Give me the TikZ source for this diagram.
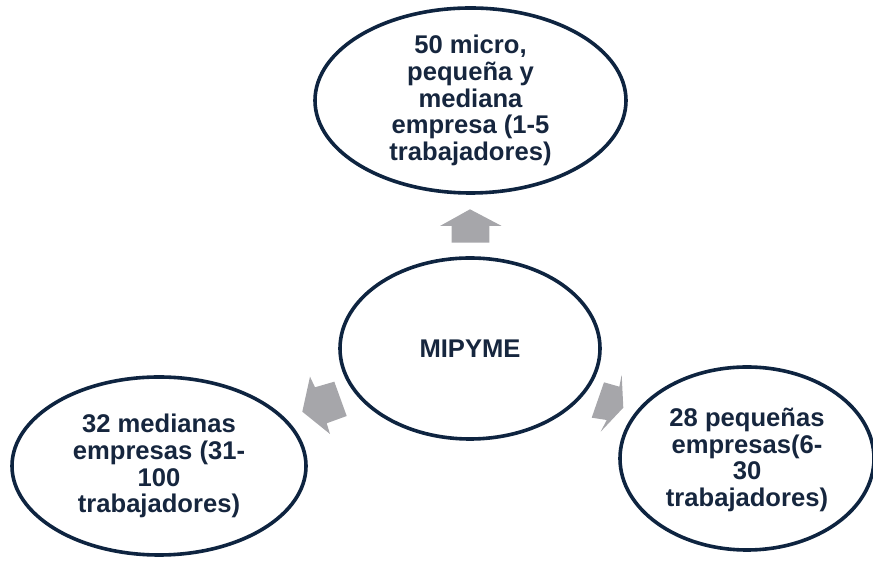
\documentclass[tikz,border=0pt]{standalone}
\usepackage{fontspec}
\setmainfont{Liberation Sans}
\usetikzlibrary{shapes.geometric}
\definecolor{navyline}{RGB}{14,36,64}
\definecolor{navytext}{RGB}{22,38,62}
\definecolor{arrowgray}{RGB}{166,166,170}
\begin{document}
\begin{tikzpicture}[x=1pt,y=1pt,
  oval/.style={ellipse, draw=navyline, line width=3.6pt, fill=white, inner sep=0pt},
  ovaltext/.style={inner sep=0pt, align=center, text=navytext,
    font=\bfseries\fontsize{25.6}{26.8}\selectfont},
  blockarrow/.style={fill=arrowgray, draw=none}]
\useasboundingbox (0,0) rectangle (873,561);
% ellipses
\node[oval, minimum width=311pt, minimum height=185pt] (top) at (470.5,460.5) {};
\node[oval, minimum width=260pt, minimum height=181pt] (mid) at (470,212.5) {};
\node[oval, minimum width=294pt, minimum height=178pt] (bl) at (159,95) {};
\node[oval, minimum width=254pt, minimum height=183pt] (br) at (747,102.5) {};
% texts
\node[ovaltext] (toptext) at (top.center) {50 micro,\\pequeña y\\mediana\\empresa (1-5\\trabajadores)};
\node[ovaltext] (midtext) at (mid.center) {MIPYME};
\node[ovaltext] (bltext) at (bl.center) {32 medianas\\empresas (31-\\100\\trabajadores)};
\node[ovaltext] (brtext) at ([yshift=-1.5pt]br.center) {28 pequeñas\\empresas(6-\\30\\trabajadores)};
% block arrows
\fill[blockarrow] (470,351.7) -- (501.7,335) -- (489.3,335) -- (489.3,318.3)
  -- (451.7,318.3) -- (451.7,335) -- (440,335) -- cycle;
\fill[blockarrow] (302.3,149.3) -- (310,184.3) -- (315,173.7) -- (334.3,179.3)
  -- (346.7,145) -- (326.7,137.7) -- (330,127) -- cycle;
\fill[blockarrow] (623.3,153.3) -- (621.7,186) -- (619.3,174.3) -- (604,178.7)
  -- (591.7,143.3) -- (606.7,141) -- (600.7,129.3) -- cycle;
\end{tikzpicture}
\end{document}
